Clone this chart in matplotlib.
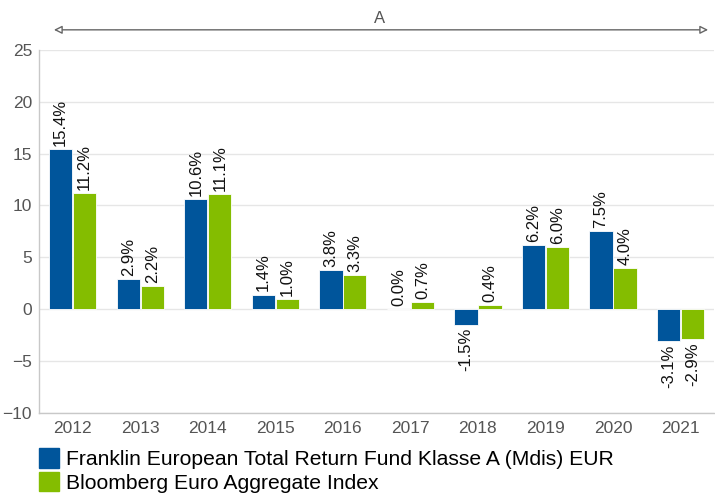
import numpy as np
import matplotlib.pyplot as plt
from matplotlib.patches import Patch

years = ['2012', '2013', '2014', '2015', '2016', '2017', '2018', '2019', '2020', '2021']
fund = [15.4, 2.9, 10.6, 1.4, 3.8, 0.0, -1.5, 6.2, 7.5, -3.1]
index = [11.2, 2.2, 11.1, 1.0, 3.3, 0.7, 0.4, 6.0, 4.0, -2.9]
fund_name = 'Franklin European Total Return Fund Klasse A (Mdis) EUR'
index_name = 'Bloomberg Euro Aggregate Index'

BLUE = '#00559b'
GREEN = '#84bd00'
GREY = '#555555'

plt.rcParams['font.family'] = ['Liberation Sans', 'DejaVu Sans']

fig = plt.figure(figsize=(7.15, 4.98), dpi=100)
ax = fig.add_axes([0.0545, 0.171, 0.9445, 0.729])

x = np.arange(len(years))
w = 0.345
b1 = ax.bar(x - w / 2 - 0.005, fund, w, color=BLUE, edgecolor='white', linewidth=0.6, zorder=3)
b2 = ax.bar(x + w / 2 + 0.005, index, w, color=GREEN, edgecolor='white', linewidth=0.6, zorder=3)

for bars, vals in [(b1, fund), (b2, index)]:
    for bar, v in zip(bars, vals):
        cx = bar.get_x() + bar.get_width() / 2
        if v >= 0:
            ax.text(cx, v + 0.3, f'{v:.1f}%', rotation=90, ha='center', va='bottom',
                    fontsize=12, color='#111111')
        else:
            ax.text(cx, v - 0.3, f'{v:.1f}%', rotation=90, ha='center', va='top',
                    fontsize=12, color='#111111')

ax.set_xlim(-0.5, len(years) - 0.5)
ax.set_ylim(-10, 25)
ax.set_yticks(range(-10, 30, 5))
ax.set_xticks(x)
ax.set_xticklabels(years)
ax.tick_params(axis='both', length=0, labelsize=12.5, colors=GREY, pad=6)
ax.tick_params(axis='y', pad=5)
ax.grid(axis='y', color='#e6e6e6', linewidth=1, zorder=0)
for s in ['top', 'right']:
    ax.spines[s].set_visible(False)
for s in ['left', 'bottom']:
    ax.spines[s].set_color('#c8c8c8')
    ax.spines[s].set_linewidth(1)

# period arrow above plot
ax.annotate('', xy=(0.995, 1.055), xytext=(0.018, 1.055), xycoords='axes fraction',
            arrowprops=dict(arrowstyle='<|-|>', color='#666666', lw=1,
                            fc='white', mutation_scale=12))
ax.text(0.505, 1.065, 'A', transform=ax.transAxes, ha='center', va='bottom',
        fontsize=12, color=GREY)

handles = [Patch(color=BLUE, label=fund_name), Patch(color=GREEN, label=index_name)]
fig.legend(handles=handles, loc='lower left', bbox_to_anchor=(0.043, -0.006),
           frameon=False, fontsize=15.2, handlelength=0.95, handleheight=1.05,
           handletextpad=0.3, labelspacing=0.12, borderaxespad=0)

fig.savefig('out.png', dpi=100)
